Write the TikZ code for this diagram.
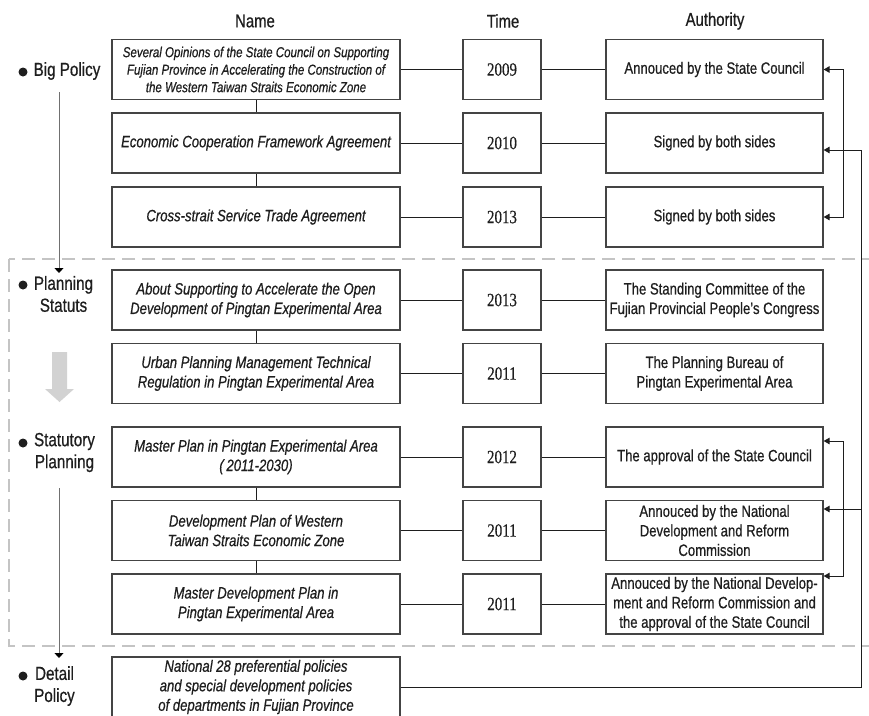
\documentclass[tikz,border=0pt]{standalone}
\usepackage{fontspec}
\setmainfont{Liberation Sans}[FakeStretch=0.8,FakeBold=0.6]
\newfontfamily\yearfont{Liberation Serif}[FakeStretch=0.8,FakeBold=0.4]
\usetikzlibrary{arrows.meta}
\definecolor{boxc}{HTML}{444444}
\definecolor{txt}{HTML}{1E1E1E}
\definecolor{dashc}{HTML}{C4C4C4}
\definecolor{garr}{HTML}{D2D2D2}
\definecolor{lgray}{HTML}{707070}
\begin{document}
\begin{tikzpicture}[x=1pt,y=-1pt,
  box/.style={draw=boxc, line width=1.2pt, inner sep=1pt, align=center, text=txt, minimum height=60pt},
  namebox/.style={box, minimum width=288pt, font=\fontsize{16.4}{19.5}\selectfont\itshape},
  smallname/.style={font=\fontsize{14.4}{17.5}\selectfont\itshape},
  timebox/.style={box, minimum width=78pt, font=\yearfont\fontsize{18.7}{20}\selectfont},
  authbox/.style={box, minimum width=217pt, font=\fontsize{16.4}{19.5}\selectfont},
  header/.style={text=txt, font=\fontsize{18.6}{20}\selectfont},
  lbl/.style={text=txt, align=center, inner sep=0pt, font=\fontsize{19}{22}\selectfont},
  conn/.style={draw=txt, line width=1pt},
  tri/.tip={Triangle[length=6pt,width=6.5pt]},
  ltri/.tip={Triangle[length=5pt,width=9pt]}
]
\useasboundingbox (0,0) rectangle (869,715);
\clip (0,0) rectangle (869,715);

% headers
\node[header] (hname) at (255,21) {Name};
\node[header] (htime) at (503,21) {Time};
\node[header] (hauth) at (715,21) {Authority};

% dashed frame
\draw[dashc, line width=1.5pt, dash pattern=on 13pt off 7pt] (9,259) rectangle (885,646);

% name boxes
\node[namebox,smallname] (n1) at (256,69.5) {Several Opinions of the State Council on Supporting\\Fujian Province in Accelerating the Construction of\\the Western Taiwan Straits Economic Zone};
\node[namebox] (n2) at (256,143) {Economic Cooperation Framework Agreement};
\node[namebox] (n3) at (256,217) {Cross-strait Service Trade Agreement};
\node[namebox] (n4) at (256,300) {About Supporting to Accelerate the Open\\Development of Pingtan Experimental Area};
\node[namebox] (n5) at (256,373.5) {Urban Planning Management Technical\\Regulation in Pingtan Experimental Area};
\node[namebox] (n6) at (256,457) {Master Plan in Pingtan Experimental Area\\(\,2011-2030)};
\node[namebox] (n7) at (256,530.5) {Development Plan of Western\\Taiwan Straits Economic Zone};
\node[namebox] (n8) at (256,604) {Master Development Plan in\\Pingtan Experimental Area};
\node[namebox] (n9) at (256,687) {National 28 preferential policies\\and special development policies\\of departments in Fujian Province};

% time boxes
\node[timebox] (t1) at (502,69.5) {2009};
\node[timebox] (t2) at (502,143) {2010};
\node[timebox] (t3) at (502,217) {2013};
\node[timebox] (t4) at (502,300) {2013};
\node[timebox] (t5) at (502,373.5) {2011};
\node[timebox] (t6) at (502,457) {2012};
\node[timebox] (t7) at (502,530.5) {2011};
\node[timebox] (t8) at (502,604) {2011};

% authority boxes
\node[authbox] (a1) at (714.5,69.5) {Annouced by the State Council};
\node[authbox] (a2) at (714.5,143) {Signed by both sides};
\node[authbox] (a3) at (714.5,217) {Signed by both sides};
\node[authbox] (a4) at (714.5,300) {The Standing Committee of the\\Fujian Provincial People's Congress};
\node[authbox] (a5) at (714.5,373.5) {The Planning Bureau of\\Pingtan Experimental Area};
\node[authbox] (a6) at (714.5,457) {The approval of the State Council};
\node[authbox] (a7) at (714.5,530.5) {Annouced by the National\\Development and Reform\\Commission};
\node[authbox] (a8) at (714.5,604) {Annouced by the National Develop-\\ment and Reform Commission and\\the approval of the State Council};

% row connectors
\foreach \i in {1,...,8}{
  \draw[conn] (n\i.east) -- (t\i.west) (t\i.east) -- (a\i.west);
}
% vertical connectors between name boxes
\draw[conn] (n1.south) -- (n2.north);
\draw[conn] (n2.south) -- (n3.north);
\draw[conn] (n4.south) -- (n5.north);
\draw[conn] (n6.south) -- (n7.north);
\draw[conn] (n7.south) -- (n8.north);

% right-hand connectors
\draw[conn, {tri}-{tri}] (a1.east) -- ++(20,0) |- (a3.east);
\draw[conn, {tri}-{tri}] ([yshift=16pt]a6.east) -- ++(20,0) |- ([yshift=28pt]a8.east);
\coordinate (bustop) at (861,150);
\coordinate (busmid) at (861,509);
\draw[conn] (n9.east) -| (bustop);
\draw[conn, -{tri}] (bustop) -- (bustop -| a2.east);
\draw[conn, -{tri}] (busmid) -- (busmid -| a7.east);

% left labels
\node[lbl] (bp) at (67,71) {Big Policy};
\node[lbl] (ps) at (63.5,294) {Planning\\Statuts};
\node[lbl] (sp) at (64.5,452.5) {Statutory\\Planning};
\node[lbl] (dp) at (54.5,686) {Detail\\Policy};
\fill[txt] (23,72) circle [radius=4.5pt];
\fill[txt] (23,285) circle [radius=4.5pt];
\fill[txt] (23,443) circle [radius=4.5pt];
\fill[txt] (23,676) circle [radius=4.5pt];

% left arrows
\coordinate (la1) at (59,92);
\coordinate (la2) at (59,273);
\coordinate (lb1) at (59,488);
\coordinate (lb2) at (59,658);
\draw[lgray, line width=1pt, -{ltri[black]}] (la1) -- (la2);
\draw[lgray, line width=1pt, -{ltri[black]}] (lb1) -- (lb2);

% gray block arrow
\fill[garr] (52,352) -- (67,352) -- (67,389) -- (74,389) -- (59.5,402) -- (45,389) -- (52,389) -- cycle;
\end{tikzpicture}
\end{document}
